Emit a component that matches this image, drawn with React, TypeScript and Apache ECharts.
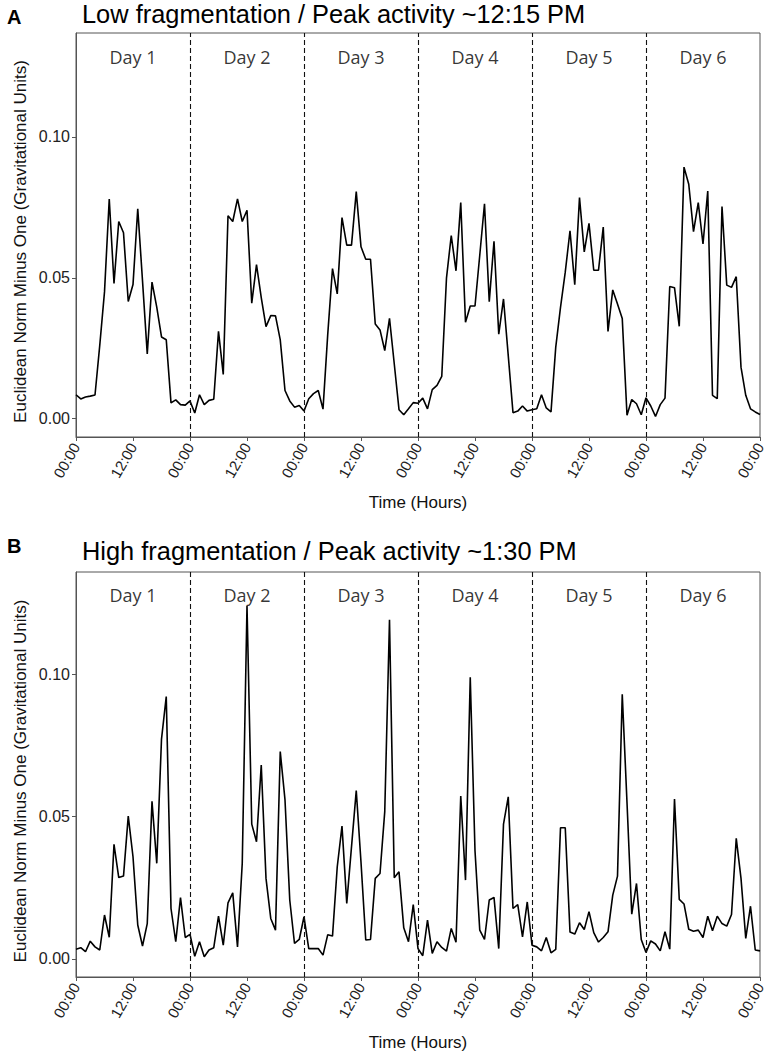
import React, { useEffect, useRef } from "react";
import * as echarts from "echarts";

// ---------- DATA (hourly values, hour 0 = Day 1 00:00) ----------
const lowDay1 = [0.0085, 0.0070, 0.0077, 0.0080, 0.0084, 0.026, 0.045, 0.078, 0.048, 0.070, 0.066, 0.0416, 0.0476, 0.0745, 0.049, 0.023, 0.0485, 0.0396, 0.029, 0.028, 0.0056, 0.0067, 0.0050, 0.0048];
const lowDay2 = [0.0063, 0.0020, 0.0085, 0.0050, 0.0065, 0.0069, 0.031, 0.0157, 0.072, 0.070, 0.078, 0.070, 0.074, 0.041, 0.0547, 0.043, 0.0327, 0.0366, 0.0365, 0.028, 0.010, 0.0063, 0.0041, 0.0047];
const lowDay3 = [0.0027, 0.0071, 0.0089, 0.0100, 0.0034, 0.030, 0.0533, 0.0443, 0.0714, 0.0616, 0.0616, 0.0806, 0.061, 0.0566, 0.0566, 0.0336, 0.0315, 0.0242, 0.0356, 0.0195, 0.0032, 0.0014, 0.0035, 0.0057];
const lowDay4 = [0.0055, 0.0073, 0.0035, 0.0103, 0.0118, 0.015, 0.050, 0.065, 0.0525, 0.0767, 0.0342, 0.040, 0.040, 0.058, 0.0763, 0.0415, 0.063, 0.030, 0.0425, 0.0224, 0.0021, 0.0027, 0.0045, 0.0027];
const lowDay5 = [0.0032, 0.0035, 0.0085, 0.0038, 0.0024, 0.0254, 0.0395, 0.052, 0.0667, 0.0476, 0.0785, 0.0592, 0.0693, 0.0527, 0.0527, 0.068, 0.031, 0.0457, 0.0407, 0.0356, 0.0012, 0.0068, 0.0053, 0.0014];
const lowDay6 = [0.0074, 0.0045, 0.0008, 0.0050, 0.0073, 0.0469, 0.0465, 0.0328, 0.0893, 0.0832, 0.0664, 0.0767, 0.062, 0.0808, 0.0083, 0.0071, 0.0753, 0.0474, 0.0466, 0.0504, 0.0183, 0.0083, 0.0035, 0.0024, 0.0015];

const highDay1 = [0.0034, 0.0039, 0.0025, 0.0062, 0.0042, 0.0031, 0.0154, 0.0076, 0.0403, 0.0286, 0.0291, 0.0502, 0.0359, 0.0119, 0.0045, 0.0124, 0.0554, 0.0336, 0.0773, 0.0923, 0.0177, 0.0060, 0.0215, 0.0075];
const highDay2 = [0.0086, 0.0009, 0.0060, 0.0007, 0.0031, 0.0039, 0.0150, 0.0048, 0.0197, 0.0232, 0.0042, 0.0336, 0.1242, 0.0474, 0.0412, 0.0682, 0.0283, 0.0142, 0.0101, 0.0729, 0.0559, 0.0207, 0.0054, 0.0068];
const highDay3 = [0.0148, 0.0036, 0.0036, 0.0036, 0.0013, 0.0085, 0.0080, 0.0324, 0.0467, 0.0195, 0.0394, 0.0592, 0.034, 0.0066, 0.0068, 0.0283, 0.0300, 0.0518, 0.1193, 0.0285, 0.0306, 0.0109, 0.0060, 0.0191];
const highDay4 = [0.0036, 0.0011, 0.0136, 0.0019, 0.0060, 0.0040, 0.0027, 0.0107, 0.0058, 0.0573, 0.0277, 0.0991, 0.038, 0.0101, 0.0068, 0.0207, 0.0216, 0.0036, 0.0474, 0.0570, 0.0177, 0.0191, 0.0077, 0.0200];
const highDay5 = [0.0048, 0.0042, 0.0028, 0.0075, 0.0021, 0.0033, 0.0461, 0.0461, 0.0094, 0.0087, 0.0127, 0.0103, 0.0166, 0.0092, 0.0059, 0.0075, 0.0095, 0.0224, 0.0291, 0.0931, 0.055, 0.0157, 0.0265, 0.0068];
const highDay6 = [0.0022, 0.0063, 0.0052, 0.0028, 0.0095, 0.0034, 0.0562, 0.0209, 0.0193, 0.0104, 0.0097, 0.0101, 0.0075, 0.0150, 0.0099, 0.0150, 0.0124, 0.0115, 0.0156, 0.0424, 0.0283, 0.0072, 0.0185, 0.0031, 0.0028];

const dayLabels = ["Day 1", "Day 2", "Day 3", "Day 4", "Day 5", "Day 6"];
const dayBoundaries = [24, 48, 72, 96, 120];
const yTickValues = [0, 0.05, 0.1];
const titles = [
  "Low fragmentation / Peak activity ~12:15 PM",
  "High fragmentation / Peak activity ~1:30 PM",
];
const panelLetters = ["A", "B"];
const yTitle = "Euclidean Norm Minus One (Gravitational Units)";
const xTitle = "Time (Hours)";

const lowSeries = [...lowDay1, ...lowDay2, ...lowDay3, ...lowDay4, ...lowDay5, ...lowDay6];
const highSeries = [...highDay1, ...highDay2, ...highDay3, ...highDay4, ...highDay5, ...highDay6];

const SANS = '"Liberation Sans", Arial, sans-serif';
const AXIS_COLOR = "#555";

export default function App() {
  const ref = useRef<HTMLDivElement>(null);

  useEffect(() => {
    document.body.style.margin = "0";
    if (!ref.current) return;
    const chart = echarts.init(ref.current, null, { renderer: "svg" });

    const grids = [
      { left: 76, width: 684, top: 33, height: 404 },
      { left: 76, width: 684, top: 572, height: 405 },
    ];
    const yRanges = [
      { min: -0.0065, max: 0.1369 },
      { min: -0.0064, max: 0.1361 },
    ];
    const dayLabelY = [0.1284, 0.128];
    const panels = [lowSeries, highSeries];

    const option: any = {
      animation: false,
      backgroundColor: "#fff",
      grid: grids.map((g) => ({
        ...g,
        show: true,
        borderColor: AXIS_COLOR,
        borderWidth: 1,
        backgroundColor: "transparent",
      })),
      xAxis: grids.map((_, i) => ({
        type: "value",
        gridIndex: i,
        min: 0,
        max: 144,
        interval: 12,
        axisLine: { show: true, onZero: false, lineStyle: { color: AXIS_COLOR, width: 1 } },
        axisTick: { show: true, length: 4, lineStyle: { color: AXIS_COLOR } },
        splitLine: { show: false },
        axisLabel: {
          rotate: 60,
          margin: 7,
          fontSize: 15,
          fontFamily: SANS,
          color: "#222",
          formatter: (v: number) => (v % 24 === 0 ? "00:00" : "12:00"),
        },
        name: xTitle,
        nameLocation: "middle",
        nameGap: 57,
        nameTextStyle: { fontSize: 17, fontFamily: SANS, color: "#111" },
      })),
      yAxis: grids.map((_, i) => ({
        type: "value",
        gridIndex: i,
        min: yRanges[i].min,
        max: yRanges[i].max,
        axisLine: { show: true, onZero: false, lineStyle: { color: AXIS_COLOR, width: 1 } },
        axisTick: { show: true, length: 4, lineStyle: { color: AXIS_COLOR }, customValues: yTickValues },
        splitLine: { show: false },
        axisLabel: {
          customValues: yTickValues,
          margin: 6,
          fontSize: 16,
          fontFamily: SANS,
          color: "#222",
          formatter: (v: number) => v.toFixed(2),
        },
      })),
      series: [
        ...panels.map((vals, i) => ({
          type: "line",
          xAxisIndex: i,
          yAxisIndex: i,
          data: vals.map((v, h) => [h, v]),
          showSymbol: false,
          symbol: "none",
          lineStyle: { color: "#000", width: 1.6 },
          silent: true,
          markLine: {
            silent: true,
            symbol: ["none", "none"],
            label: { show: false },
            lineStyle: { color: "#111", width: 1.1, type: [5, 3] },
            data: dayBoundaries.map((d) => ({ xAxis: d })),
          },
        })),
        ...panels.map((_, i) => ({
          type: "scatter",
          xAxisIndex: i,
          yAxisIndex: i,
          symbolSize: 0,
          silent: true,
          data: dayLabels.map((name, d) => ({ name, value: [12 + 24 * d, dayLabelY[i]] })),
          label: {
            show: true,
            position: "inside",
            formatter: "{b}",
            fontFamily: '"Open Sans", sans-serif',
            fontSize: 18,
            color: "#000",
          },
        })),
      ],
      graphic: [
        ...titles.map((t, i) => ({
          type: "text",
          x: 82,
          y: 14 + 537 * i,
          silent: true,
          style: { text: t, font: `25.4px ${SANS}`, fill: "#000", align: "left", verticalAlign: "middle" },
        })),
        ...panelLetters.map((t, i) => ({
          type: "text",
          x: 7,
          y: 17 + 529 * i,
          silent: true,
          style: { text: t, font: `bold 20px ${SANS}`, fill: "#000", align: "left", verticalAlign: "middle" },
        })),
        ...[241.5, 781].map((cy) => ({
          type: "text",
          x: 20.5,
          y: cy,
          rotation: Math.PI / 2,
          silent: true,
          style: { text: yTitle, font: `17px ${SANS}`, fill: "#111", align: "center", verticalAlign: "middle" },
        })),
      ],
    };

    chart.setOption(option);
    return () => chart.dispose();
  }, []);

  return <div ref={ref} style={{ width: 772, height: 1055 }} />;
}
